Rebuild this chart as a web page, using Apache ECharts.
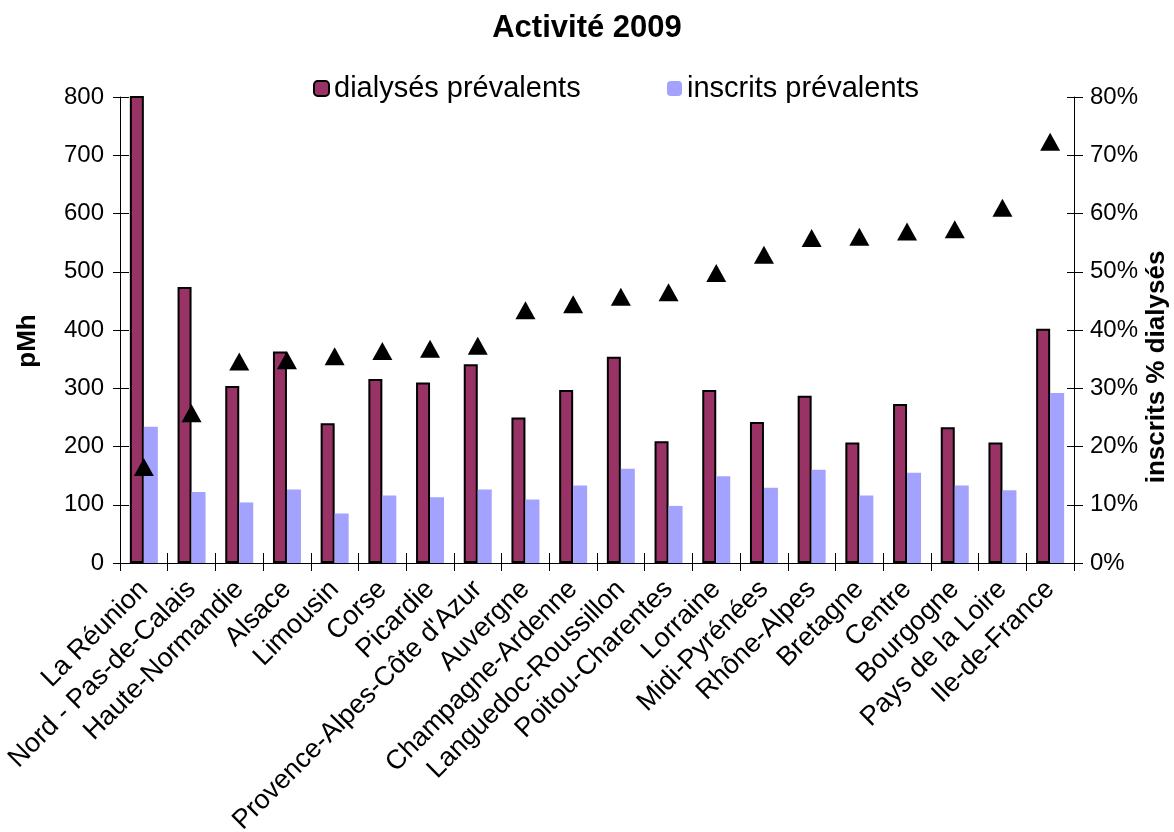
<!DOCTYPE html>
<html>
<head>
<meta charset="utf-8">
<script src="https://cdn.jsdelivr.net/npm/echarts@6/dist/echarts.min.js"></script>
<style>
  html, body { margin: 0; padding: 0; background: #fff; }
  #chart { width: 1174px; height: 832px; }
</style>
</head>
<body>
<div id="chart"></div>
<script>
// Régions, classées par part d'inscrits croissante
const regions = [
  'La Réunion', 'Nord - Pas-de-Calais', 'Haute-Normandie', 'Alsace', 'Limousin',
  'Corse', 'Picardie', "Provence-Alpes-Côte d'Azur", 'Auvergne', 'Champagne-Ardenne',
  'Languedoc-Roussillon', 'Poitou-Charentes', 'Lorraine', 'Midi-Pyrénées', 'Rhône-Alpes',
  'Bretagne', 'Centre', 'Bourgogne', 'Pays de la Loire', 'Ile-de-France'
];
// Prévalence (pMh)
const dialyses = [1418, 474, 304, 363, 240, 316, 310, 341, 250, 297, 354, 209, 297, 242, 287, 207, 273, 233, 207, 402];
const inscrits = [234, 122, 104, 126, 85, 116, 113, 126, 109, 133, 162, 98, 149, 129, 160, 116, 155, 133, 125, 292];
// Inscrits en % des dialysés
const inscritsPct = [16.5, 25.7, 34.6, 34.8, 35.5, 36.4, 36.8, 37.3, 43.4, 44.4, 45.7, 46.5, 49.8, 52.9, 55.8, 56.0, 56.9, 57.3, 61.0, 72.3];
// Graduations
const pmhTicks = { min: 0, max: 800, interval: 100 };
const pctTicks = { min: 0, max: 80, interval: 10 };

const FONT = '"Liberation Sans", Arial, sans-serif';
const chart = echarts.init(document.getElementById('chart'), null, { renderer: 'canvas' });

const lineStyle = { color: '#000', width: 1 };
const legendText = { fontFamily: FONT, fontSize: 29, color: '#000' };

chart.setOption({
  backgroundColor: '#fff',
  animation: false,
  textStyle: { fontFamily: FONT, color: '#000' },
  title: {
    text: 'Activité 2009',
    left: 'center',
    top: 8,
    textStyle: { fontFamily: FONT, fontSize: 31, fontWeight: 'bold', color: '#000' }
  },
  legend: [
    {
      data: ['dialysés prévalents'],
      left: 313, top: 74,
      itemWidth: 15, itemHeight: 15, itemGap: 6,
      padding: 0,
      textStyle: legendText
    },
    {
      data: ['inscrits prévalents'],
      left: 667, top: 74,
      itemWidth: 15, itemHeight: 15, itemGap: 6,
      padding: 0,
      textStyle: legendText
    }
  ],
  grid: {
    left: 120, right: 100, top: 97, bottom: 269,
    containLabel: false,
    outerBoundsMode: 'none'
  },
  xAxis: [
    {
      type: 'category',
      data: regions,
      position: 'bottom',
      boundaryGap: true,
      axisLine: { lineStyle },
      axisTick: { show: true, interval: 0, length: 8, lineStyle },
      axisLabel: {
        rotate: 45, interval: 0, margin: 22,
        fontFamily: FONT, fontSize: 27, color: '#000'
      },
      splitLine: { show: false }
    },
    {
      type: 'category',
      data: regions,
      position: 'bottom',
      boundaryGap: true,
      axisLine: { show: false },
      axisTick: { show: true, interval: 0, inside: true, length: 10, lineStyle },
      axisLabel: { show: false },
      splitLine: { show: false }
    }
  ],
  yAxis: [
    {
      type: 'value',
      position: 'left',
      ...pmhTicks,
      axisLine: { show: true, lineStyle },
      axisTick: { show: true, length: 7, lineStyle },
      axisLabel: { margin: 16, fontFamily: FONT, fontSize: 24, color: '#000' },
      splitLine: { show: false }
    },
    {
      type: 'value',
      position: 'right',
      ...pctTicks,
      axisLine: { show: true, lineStyle },
      axisTick: { show: true, length: 9, lineStyle },
      axisLabel: { margin: 16, formatter: '{value}%', fontFamily: FONT, fontSize: 24, color: '#000' },
      splitLine: { show: false }
    },
    {
      type: 'value',
      position: 'left',
      ...pmhTicks,
      axisLine: { show: false },
      axisTick: { show: true, inside: true, length: 9, lineStyle },
      axisLabel: { show: false },
      splitLine: { show: false }
    },
    {
      type: 'value',
      position: 'right',
      ...pctTicks,
      axisLine: { show: false },
      axisTick: { show: true, inside: true, length: 7, lineStyle },
      axisLabel: { show: false },
      splitLine: { show: false }
    }
  ],
  graphic: [
    {
      type: 'text',
      x: 28, y: 341,
      rotation: Math.PI / 2,
      style: {
        text: 'pMh', font: 'bold 26px ' + FONT, fill: '#000',
        align: 'center', verticalAlign: 'middle'
      }
    },
    {
      type: 'text',
      x: 1157, y: 367,
      rotation: Math.PI / 2,
      style: {
        text: 'inscrits % dialysés', font: 'bold 26px ' + FONT, fill: '#000',
        align: 'center', verticalAlign: 'middle'
      }
    }
  ],
  series: [
    {
      name: 'dialysés prévalents',
      type: 'bar',
      xAxisIndex: 0,
      data: dialyses,
      barWidth: 14,
      barGap: '0%',
      clip: true,
      itemStyle: { color: '#993366', borderColor: '#000', borderWidth: 2 }
    },
    {
      name: 'inscrits prévalents',
      type: 'bar',
      xAxisIndex: 0,
      data: inscrits,
      barWidth: 14,
      barGap: '0%',
      itemStyle: { color: '#a3a3ff' }
    },
    {
      name: 'inscrits % dialysés',
      type: 'scatter',
      xAxisIndex: 0,
      yAxisIndex: 1,
      data: inscritsPct,
      symbol: 'triangle',
      symbolSize: [20, 18],
      itemStyle: { color: '#000', opacity: 1 }
    }
  ]
});
</script>
</body>
</html>
